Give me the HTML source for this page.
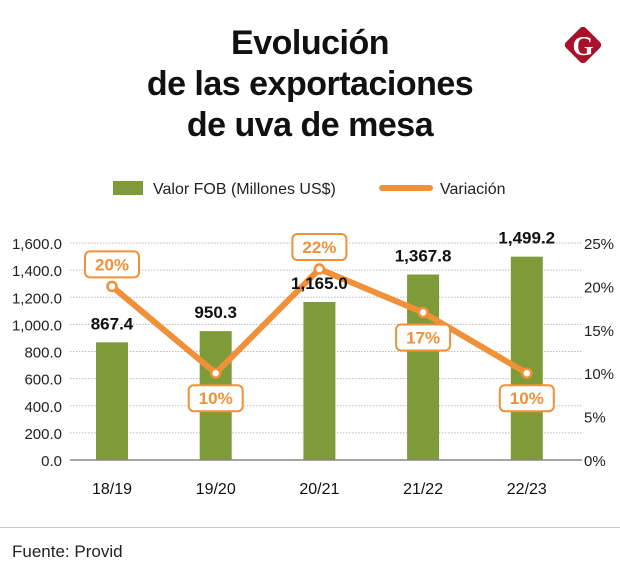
<!DOCTYPE html>
<html><head><meta charset="utf-8"><style>
body{margin:0;background:#fff;font-family:"Liberation Sans",sans-serif;}
#wrap{position:relative;width:620px;height:588px;overflow:hidden;}
.t{position:absolute;left:0;width:620px;text-align:center;font-weight:bold;font-size:34px;color:#111;letter-spacing:-0.5px;}
</style></head><body>
<div id="wrap">
<div class="t" style="top:24px">Evolución</div>
<div class="t" style="top:65px">de las exportaciones</div>
<div class="t" style="top:106px">de uva de mesa</div>
<svg style="position:absolute;left:560px;top:22px" width="46" height="46">
<rect x="9" y="9" width="28" height="28" rx="4" fill="#a8122a" transform="rotate(45 23 23)"/>
<text x="23" y="33" text-anchor="middle" font-family="Liberation Serif" font-weight="bold" font-size="27" fill="#fff">G</text>
</svg>
<svg id="c" width="620" height="588" style="position:absolute;left:0;top:0"></svg>
<div style="position:absolute;left:0;top:527px;width:620px;border-top:1px solid #ccc"></div>
<div style="position:absolute;left:12px;top:542px;font-size:17px;color:#222">Fuente: Provid</div>
</div>
<script>
const categories=["18/19","19/20","20/21","21/22","22/23"];
const fobValues=[867.4,950.3,1165.0,1367.8,1499.2];
const variation=[20,10,22,17,10];
const leftTicks=[0,200,400,600,800,1000,1200,1400,1600];
const rightTicks=[0,5,10,15,20,25];
const NS="http://www.w3.org/2000/svg",svg=document.getElementById('c');
function mk(t,a,txt){const e=document.createElementNS(NS,t);for(const k in a)e.setAttribute(k,a[k]);if(txt!=null)e.textContent=txt;svg.appendChild(e);return e;}
const y0=460,y1=243,xL=70,xR=582;
const yL=v=>y0-(v/1600)*(y0-y1);
const yR=v=>y0-(v/25)*(y0-y1);
const xC=i=>112+i*103.7;
let e=mk('rect',{x:113,y:181,width:30,height:14,fill:'#7f9a38'});

e=mk('text',{x:153,y:194,'font-size':16,fill:'#222'},'Valor FOB (Millones US$)');

e=mk('line',{x1:382,y1:188,x2:430,y2:188,stroke:'#f0913a','stroke-width':6,'stroke-linecap':'round'});

e=mk('text',{x:440,y:194,'font-size':16,fill:'#222'},'Variación');

leftTicks.forEach(v=>{
 if(v>0){e=mk('line',{x1:xL,y1:yL(v),x2:xR,y2:yL(v),stroke:'#bbb','stroke-dasharray':'1.5 1.5'});
 }
 e=mk('text',{x:62,y:yL(v)+6,'text-anchor':'end','font-size':15,fill:'#222'},v.toLocaleString('en-US',{minimumFractionDigits:1}));
 
});
rightTicks.forEach(v=>{
 e=mk('text',{x:584,y:yR(v)+6,'font-size':15,fill:'#222'},v+'%');
 
});
fobValues.forEach((v,i)=>{
 e=mk('rect',{x:xC(i)-16,y:yL(v),width:32,height:y0-yL(v),fill:'#7f9a38'});
 
 e=mk('text',{x:xC(i),y:494,'text-anchor':'middle','font-size':16,fill:'#111'},categories[i]);
 
});
e=mk('line',{x1:xL,y1:y0,x2:xR,y2:y0,stroke:'#888','stroke-width':1.5});

e=mk('polyline',{points:variation.map((v,i)=>xC(i)+','+yR(v)).join(' '),fill:'none',stroke:'#f0913a','stroke-width':6,'stroke-linejoin':'round'});

variation.forEach((v,i)=>{
 e=mk('circle',{cx:xC(i),cy:yR(v),r:4.5,fill:'#fff',stroke:'#f0913a','stroke-width':2.5});
 
});
fobValues.forEach((v,i)=>{
 e=mk('text',{x:xC(i),y:yL(v)-13,'text-anchor':'middle','font-size':17,'font-weight':'bold',fill:'#111'},v.toLocaleString('en-US',{minimumFractionDigits:1}));
 
});
variation.forEach((v,i)=>{
 const above=(i===0||i===2);
 const cy=above?yR(v)-22:yR(v)+25;
 e=mk('rect',{x:xC(i)-27,y:cy-13,width:54,height:26,rx:5,fill:'#fff',stroke:'#f0913a','stroke-width':2});
 
 e=mk('text',{x:xC(i),y:cy+6,'text-anchor':'middle','font-size':17,'font-weight':'bold',fill:'#f0913a'},v+'%');
 
});
</script>
</body></html>
